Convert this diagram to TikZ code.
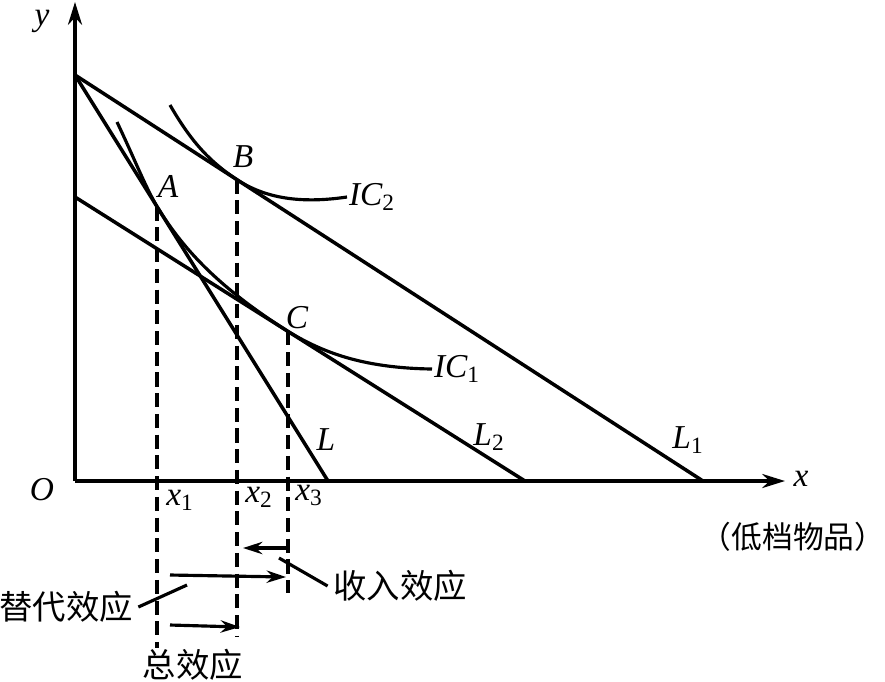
\documentclass[tikz,border=0pt]{standalone}
\usepackage{fontspec}
\setmainfont{Liberation Serif}
\newfontfamily\cjk{Noto Sans CJK SC}
\usetikzlibrary{positioning, arrows.meta}

\tikzset{
  budget/.style={line width=2pt},
  indiff/.style={line width=1.8pt},
  guide/.style={line width=1.8pt, dash pattern=on 8pt off 3.8pt},
  effect/.style={line width=1.8pt, -{Stealth[length=11pt, width=7pt]}},
  tag/.style={inner sep=1pt, font=\fontsize{19}{22}\selectfont\itshape},
  cjklabel/.style={inner sep=0pt, font=\fontsize{19}{22}\selectfont\cjk}
}

\begin{document}
\begin{tikzpicture}[x=0.02cm, y=-0.02cm]
    \useasboundingbox (0,0) rectangle (885,681);

    % axes
    \coordinate (O) at (75,481);
    \coordinate (ytip) at (75,2);
    \coordinate (xtip) at (785,481);
    \draw[budget, -{Stealth[length=13pt, width=8pt]}] (O) -- (ytip);
    \draw[budget, -{Stealth[length=13pt, width=8pt]}] (O) -- (xtip);
    \node[tag, inner sep=0pt] (ylab) at (42,21) {y};
    \node[tag] (olab) at (42,490) {O};
    \node[tag] (xlab) at (801,479) {x};

    % budget lines
    \coordinate (top) at (75,75);
    \coordinate (mid) at (75,197);
    \coordinate (Lend) at (328,481);
    \coordinate (L2end) at (525,481);
    \coordinate (L1end) at (703,481);
    \draw[budget] (top) -- (Lend);
    \draw[budget] (top) -- (L1end);
    \draw[budget] (mid) -- (L2end);
    \node[tag] (llab) at (326,440) {L};
    \node[tag] (l2lab) at (489,437) {L\textsubscript{\upshape 2}};
    \node[tag] (l1lab) at (688,440) {L\textsubscript{\upshape 1}};

    % tangency points
    \coordinate (A) at (157,206.6);
    \coordinate (B) at (237,179.7);
    \coordinate (C) at (288,331.4);
    \node[tag] (alab) at (168,186) {A};
    \node[tag] (blab) at (243,157) {B};
    \node[tag] (clab) at (297,318) {C};

    % indifference curves
    \coordinate (ic2start) at (170,105);
    \coordinate (ic2end) at (347,197);
    \draw[indiff] (ic2start) .. controls (193,145) and (212,163) .. (B)
        .. controls (265,198) and (300,204) .. (ic2end);
    \node[tag, anchor=west] (ic2lab) at (ic2end) {IC\textsubscript{\upshape 2}};

    \coordinate (ic1start) at (117,122);
    \coordinate (ic1end) at (432,369);
    \draw[indiff] (ic1start) .. controls (135,160) and (145,186) .. (A)
        .. controls (182,247) and (215,285) .. (C)
        .. controls (322,352) and (362,368) .. (ic1end);
    \node[tag, anchor=west] (ic1lab) at (ic1end) {IC\textsubscript{\upshape 1}};

    % guides to the x axis
    \coordinate (x1end) at (157,648);
    \coordinate (x2end) at (237,637);
    \coordinate (x3end) at (288,593);
    \draw[guide] (A) -- (x1end);
    \draw[guide] (B) -- (x2end);
    \draw[guide] (C) -- (x3end);
    \node[tag] (x1lab) at (180,500) {x\textsubscript{\upshape 1}};
    \node[tag] (x2lab) at (259,497) {x\textsubscript{\upshape 2}};
    \node[tag] (x3lab) at (309,495) {x\textsubscript{\upshape 3}};
    \node[cjklabel, font=\fontsize{17.5}{20}\selectfont\cjk] (goods) at (793,537) {（低档物品）};

    % effects
    \coordinate (incfrom) at (286,548);
    \coordinate (incto) at (243,548);
    \coordinate (subfrom) at (170,575);
    \coordinate (subto) at (286,577);
    \coordinate (totfrom) at (170,625);
    \coordinate (totto) at (240,627);
    \draw[effect] (incfrom) -- (incto);
    \draw[effect] (subfrom) -- (subto);
    \draw[effect] (totfrom) -- (totto);

    \node[cjklabel] (sublab) at (66,607) {替代效应};
    \node[cjklabel] (inclab) at (400,586) {收入效应};
    \node[cjklabel] (totlab) at (193,665) {总效应};
    \coordinate (subhook) at (187,585);
    \coordinate (inchook) at (279,558);
    \draw[indiff] ([xshift=3pt]sublab.east) -- (subhook);
    \draw[indiff] ([xshift=-3pt]inclab.west) -- (inchook);
\end{tikzpicture}
\end{document}
